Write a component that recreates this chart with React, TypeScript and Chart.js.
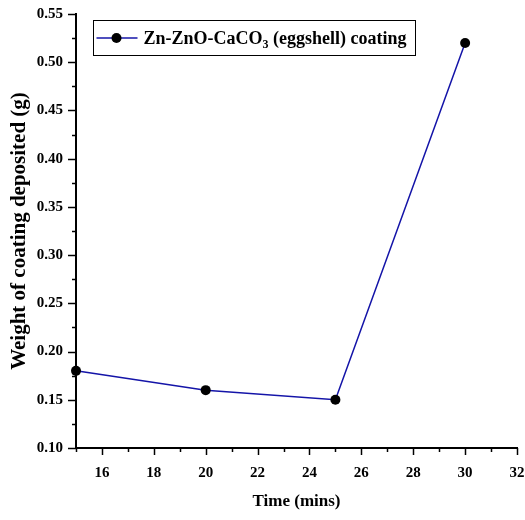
import { useEffect, useRef } from "react";
import { Chart, registerables } from "chart.js";

Chart.register(...registerables);

const times = [15, 20, 25, 30];
const weights = [0.18, 0.16, 0.15, 0.52];
const xMajorTicks = [16, 18, 20, 22, 24, 26, 28, 30, 32];
const xMinorTicks = [15, 17, 19, 21, 23, 25, 27, 29, 31];
const yMajorTicks = [0.1, 0.15, 0.2, 0.25, 0.3, 0.35, 0.4, 0.45, 0.5, 0.55];
const yMinorTicks = [0.125, 0.175, 0.225, 0.275, 0.325, 0.375, 0.425, 0.475, 0.525];
const seriesLabelParts = ["Zn-ZnO-CaCO", "3", " (eggshell) coating"];
const xTitle = "Time (mins)";
const yTitle = "Weight of coating deposited (g)";

const FONT = "'Liberation Serif', 'Times New Roman', serif";
const LINE_COLOR = "#1414a8";

const tickPlugin = {
  id: "minorMajorTicks",
  afterDraw(chart: any) {
    const { ctx } = chart;
    const xs = chart.scales.x;
    const ys = chart.scales.y;
    const bottom = chart.chartArea.bottom;
    const left = chart.chartArea.left;
    ctx.save();
    ctx.strokeStyle = "#000";
    ctx.lineWidth = 1.5;
    const drawX = (v: number, len: number) => {
      const px = Math.round(xs.getPixelForValue(v)) + 0.5;
      ctx.beginPath();
      ctx.moveTo(px, bottom);
      ctx.lineTo(px, bottom + len);
      ctx.stroke();
    };
    const drawY = (v: number, len: number) => {
      const py = Math.round(ys.getPixelForValue(v)) + 0.5;
      ctx.beginPath();
      ctx.moveTo(left, py);
      ctx.lineTo(left - len, py);
      ctx.stroke();
    };
    xMajorTicks.forEach((v) => drawX(v, 7));
    xMinorTicks.forEach((v) => drawX(v, 4));
    yMajorTicks.forEach((v) => drawY(v, 8));
    yMinorTicks.forEach((v) => drawY(v, 4));
    ctx.restore();
  },
};

const legendPlugin = {
  id: "boxLegend",
  afterDraw(chart: any) {
    const { ctx } = chart;
    const bx = 93.5, by = 20.5, bw = 322, bh = 35;
    const cy = by + bh / 2;
    ctx.save();
    ctx.strokeStyle = "#000";
    ctx.lineWidth = 1;
    ctx.strokeRect(bx, by, bw, bh);
    ctx.strokeStyle = LINE_COLOR;
    ctx.lineWidth = 1.5;
    ctx.beginPath();
    ctx.moveTo(bx + 3, cy);
    ctx.lineTo(bx + 44, cy);
    ctx.stroke();
    ctx.fillStyle = "#000";
    ctx.beginPath();
    ctx.arc(bx + 23, cy, 5, 0, Math.PI * 2);
    ctx.fill();
    ctx.fillStyle = "#000";
    ctx.textBaseline = "alphabetic";
    ctx.textAlign = "left";
    const base = cy + 6;
    let x = bx + 50;
    ctx.font = `bold 18px ${FONT}`;
    ctx.fillText(seriesLabelParts[0], x, base);
    x += ctx.measureText(seriesLabelParts[0]).width;
    ctx.font = `bold 12px ${FONT}`;
    ctx.fillText(seriesLabelParts[1], x, base + 4);
    x += ctx.measureText(seriesLabelParts[1]).width;
    ctx.font = `bold 18px ${FONT}`;
    ctx.fillText(seriesLabelParts[2], x, base);
    ctx.restore();
  },
};

export default function App() {
  const ref = useRef<HTMLCanvasElement | null>(null);
  useEffect(() => {
    if (!ref.current) return;
    const chart = new Chart(ref.current, {
      type: "line",
      data: {
        datasets: [
          {
            label: seriesLabelParts.join(""),
            data: times.map((t, i) => ({ x: t, y: weights[i] })),
            borderColor: LINE_COLOR,
            borderWidth: 1.5,
            pointBackgroundColor: "#000",
            pointBorderColor: "#000",
            pointRadius: 5,
            pointBorderWidth: 0,
            tension: 0,
            clip: false as any,
          },
        ],
      },
      options: {
        animation: false,
        responsive: false,
        layout: { padding: { top: 14, right: 8, left: 0, bottom: 0 } },
        plugins: { legend: { display: false }, tooltip: { enabled: false } },
        scales: {
          x: {
            type: "linear",
            min: 15,
            max: 32,
            afterBuildTicks: (s: any) => {
              s.ticks = xMajorTicks.map((value) => ({ value }));
            },
            afterFit: (s: any) => {
              s.height = 72;
              s.paddingLeft = 0;
              s.paddingRight = 0;
            },
            grid: { display: false, drawTicks: false },
            border: { display: true, color: "#000", width: 2 },
            ticks: {
              autoSkip: false,
              maxRotation: 0,
              padding: 16,
              color: "#000",
              font: { family: FONT, size: 15, weight: "bold" },
              callback: (v: any) => String(v),
            },
            title: {
              display: true,
              text: xTitle,
              color: "#000",
              font: { family: FONT, size: 17, weight: "bold" },
              padding: { top: 0, bottom: 8 },
            },
          },
          y: {
            type: "linear",
            min: 0.1,
            max: 0.55,
            afterBuildTicks: (s: any) => {
              s.ticks = yMajorTicks.map((value) => ({ value }));
            },
            afterFit: (s: any) => {
              s.width = 76;
              s.paddingTop = 0;
              s.paddingBottom = 0;
            },
            grid: { display: false, drawTicks: false },
            border: { display: true, color: "#000", width: 2 },
            ticks: {
              autoSkip: false,
              padding: 13,
              color: "#000",
              font: { family: FONT, size: 15, weight: "bold" },
              callback: (v: any) => Number(v).toFixed(2),
            },
            title: {
              display: true,
              text: yTitle,
              color: "#000",
              font: { family: FONT, size: 21, weight: "bold" },
              padding: { top: 7, bottom: 0 },
            },
          },
        },
      },
      plugins: [tickPlugin, legendPlugin],
    });
    return () => chart.destroy();
  }, []);
  return (
    <div style={{ position: "absolute", left: 0, top: 0, width: 525, height: 520 }}>
      <canvas ref={ref} width={525} height={520} style={{ display: "block" }} />
    </div>
  );
}
